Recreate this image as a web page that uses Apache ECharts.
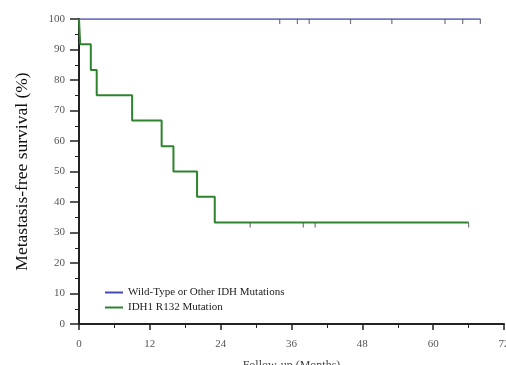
<!DOCTYPE html>
<html>
<head>
<meta charset="utf-8">
<script src="https://cdn.jsdelivr.net/npm/echarts@6/dist/echarts.min.js"></script>
<style>
  html, body { margin: 0; padding: 0; background: #fff; }
  #chart { width: 506px; height: 365px; }
</style>
</head>
<body>
<div id="chart"></div>
<script>
// wild-type group: no events, only censored patients
var wtTimes = [0, 68];
var wtSurv = [100, 100];
var wtCensor = [34, 37, 39, 46, 53, 62, 65, 68];

// IDH1 R132 group: step points (time, survival after event)
var mutTimes = [0, 0.2, 2, 3, 9, 14, 16, 20, 23, 66];
var mutSurv = [100, 91.7, 83.3, 75, 66.7, 58.3, 50, 41.7, 33.3, 33.3];
var mutCensor = [29, 38, 40, 66];
var mutCensorSurv = 33.3;

var blue = "#4848b4";
var green = "#2e832e";
var serif = "Liberation Serif";

function zip(a, b) {
  return a.map(function (v, i) { return [v, b[i]]; });
}
function censorPts(times, surv) {
  return times.map(function (t) { return [t, surv]; });
}

var chart = echarts.init(document.getElementById("chart"));
chart.setOption({
  backgroundColor: "#fff",
  animation: false,
  grid: { left: 79, right: 2, top: 19, bottom: 41, outerBoundsMode: "none" },
  legend: {
    orient: "vertical",
    left: 100,
    top: 282,
    itemWidth: 18,
    itemHeight: 2,
    itemGap: 4,
    icon: "rect",
    data: ["Wild-Type or Other IDH Mutations", "IDH1 R132 Mutation"],
    textStyle: { fontFamily: serif, fontSize: 11, color: "#222" },
  },
  xAxis: {
    type: "value",
    min: 0,
    max: 72,
    interval: 12,
    name: "Follow-up (Months)",
    nameLocation: "middle",
    nameGap: 36,
    nameTextStyle: { fontFamily: serif, fontSize: 12, color: "#444" },
    axisLine: { lineStyle: { color: "#222", width: 2 } },
    axisTick: { length: 6, lineStyle: { color: "#222", width: 1.5 } },
    minorTick: { show: true, splitNumber: 2, length: 4, lineStyle: { color: "#222" } },
    splitLine: { show: false },
    axisLabel: { fontFamily: serif, fontSize: 11, color: "#555", margin: 15 },
  },
  yAxis: {
    type: "value",
    min: 0,
    max: 100,
    interval: 10,
    name: "Metastasis-free survival (%)",
    nameLocation: "middle",
    nameGap: 48,
    nameTextStyle: { fontFamily: serif, fontSize: 17.5, color: "#111" },
    axisLine: { show: true, lineStyle: { color: "#222", width: 2 } },
    axisTick: { show: true, length: 9, lineStyle: { color: "#222", width: 1.5 } },
    minorTick: { show: true, splitNumber: 2, length: 4, lineStyle: { color: "#222" } },
    splitLine: { show: false },
    axisLabel: { fontFamily: serif, fontSize: 11, color: "#555", margin: 14 },
  },
  series: [
    {
      name: "Wild-Type or Other IDH Mutations",
      type: "line",
      step: "end",
      data: zip(wtTimes, wtSurv),
      showSymbol: false,
      color: blue,
      lineStyle: { color: blue, width: 1.5 },
      z: 3,
    },
    {
      name: "IDH1 R132 Mutation",
      type: "line",
      step: "end",
      data: zip(mutTimes, mutSurv),
      showSymbol: false,
      color: green,
      lineStyle: { color: green, width: 2 },
      z: 3,
    },
    {
      name: "wt-censor",
      type: "scatter",
      data: censorPts(wtCensor, 100),
      symbol: "rect",
      symbolSize: [1.2, 5],
      symbolOffset: [0, 2.5],
      itemStyle: { color: "#555" },
      z: 4,
    },
    {
      name: "mut-censor",
      type: "scatter",
      data: censorPts(mutCensor, mutCensorSurv),
      symbol: "rect",
      symbolSize: [1.2, 5],
      symbolOffset: [0, 2.5],
      itemStyle: { color: "#555" },
      z: 4,
    },
  ],
});
</script>
</body>
</html>
